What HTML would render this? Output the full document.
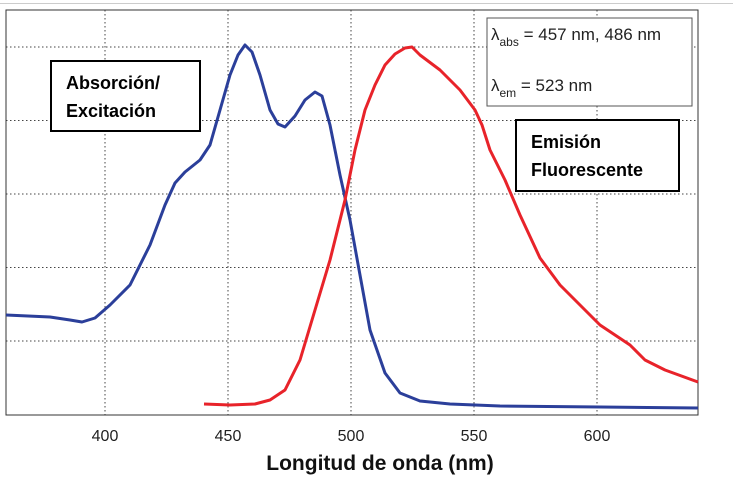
<!DOCTYPE html>
<html><head><meta charset="utf-8"><style>
body{margin:0;background:#fff;width:733px;height:482px;overflow:hidden}
svg{display:block;font-family:"Liberation Sans",sans-serif}
</style></head><body>
<svg width="733" height="482" viewBox="0 0 733 482">
<line x1="0" y1="3.5" x2="733" y2="3.5" stroke="#ccc" stroke-width="1"/>
<g stroke="#444" stroke-width="1" stroke-dasharray="1.5,2.5">
<line x1="105" y1="10" x2="105" y2="415"/><line x1="228" y1="10" x2="228" y2="415"/>
<line x1="351" y1="10" x2="351" y2="415"/><line x1="474" y1="10" x2="474" y2="415"/>
<line x1="597" y1="10" x2="597" y2="415"/>
<line x1="6" y1="47" x2="698" y2="47"/><line x1="6" y1="120.5" x2="698" y2="120.5"/>
<line x1="6" y1="194" x2="698" y2="194"/><line x1="6" y1="267.5" x2="698" y2="267.5"/>
<line x1="6" y1="341" x2="698" y2="341"/>
</g>
<rect x="6" y="10" width="692" height="405" fill="none" stroke="#333" stroke-width="1"/>
<polyline fill="none" stroke="#2b3f9a" stroke-width="3" stroke-linejoin="round" points="6,315 50,317 70,320 82,322 95,318 110,305 130,285 150,245 165,205 175,183 185,172 200,160 210,145 220,110 230,75 238,55 245,45 252,52 260,75 270,110 278,124 285,127 295,116 305,100 315,92 322,96 330,125 340,175 350,220 360,275 370,330 385,373 400,393 420,401 450,404 500,406 600,407 698,408"/>
<polyline fill="none" stroke="#e8232a" stroke-width="3" stroke-linejoin="round" points="204,404 230,405 255,404 270,400 285,390 300,360 315,310 330,260 345,200 355,150 365,110 375,85 385,65 395,54 405,48 412,47 420,55 440,70 460,90 475,110 482,125 490,150 505,180 520,215 540,258 560,285 580,305 600,325 615,335 630,345 645,360 665,370 698,382"/>
<g font-size="16" fill="#222" text-anchor="middle">
<text x="105" y="441">400</text><text x="228" y="441">450</text><text x="351" y="441">500</text><text x="474" y="441">550</text><text x="597" y="441">600</text>
</g>
<text x="380" y="470" font-size="21" font-weight="bold" text-anchor="middle" fill="#111">Longitud de onda (nm)</text>
<rect x="487" y="18" width="205" height="88" fill="#fff" stroke="#555" stroke-width="1"/>
<text x="491" y="40" font-size="17" fill="#222">λ<tspan font-size="12" dy="6">abs</tspan><tspan dy="-6"> = 457 nm, 486 nm</tspan></text>
<text x="491" y="91" font-size="17" fill="#222">λ<tspan font-size="12" dy="6">em</tspan><tspan dy="-6"> = 523 nm</tspan></text>
<rect x="51" y="61" width="149" height="70" fill="#fff" stroke="#000" stroke-width="2"/>
<text x="66" y="89" font-size="18" font-weight="bold" fill="#000">Absorción/</text>
<text x="66" y="117" font-size="18" font-weight="bold" fill="#000">Excitación</text>
<rect x="516" y="120" width="163" height="71" fill="#fff" stroke="#000" stroke-width="2"/>
<text x="531" y="148" font-size="18" font-weight="bold" fill="#000">Emisión</text>
<text x="531" y="176" font-size="18" font-weight="bold" fill="#000">Fluorescente</text>
</svg>
</body></html>
